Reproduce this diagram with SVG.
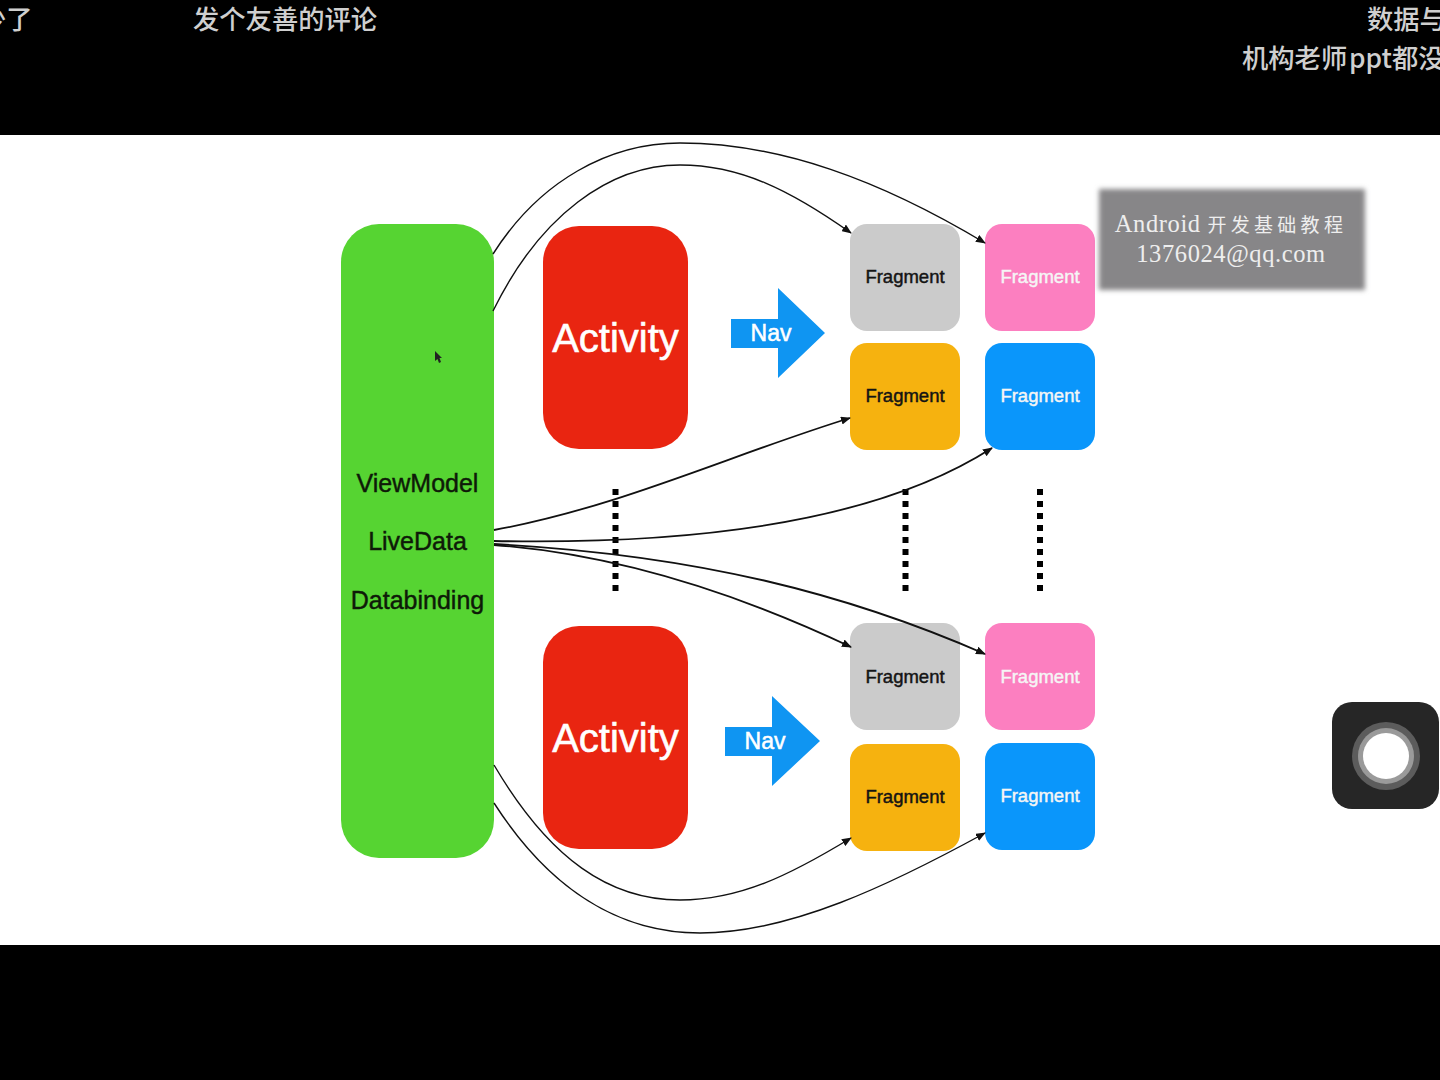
<svg xmlns="http://www.w3.org/2000/svg" width="1440" height="1080" viewBox="0 0 1440 1080">
<style>
.sub{font-family:"Noto Sans CJK SC","Liberation Sans",sans-serif;font-size:26.300px;font-weight:500;fill:#cfcfcf}
.lbl{font-family:"Liberation Sans",Arial,sans-serif;text-anchor:middle}
.frag{font-size:18.5px;stroke-width:.45px}
.dark{fill:#141414;stroke:#141414}
.light{fill:#f5f5f5;stroke:#f5f5f5}
.vm{font-size:25px;fill:#0e1a08;stroke:#0e1a08;stroke-width:.45px}
.act{font-size:40px;fill:#fff;stroke:#fff;stroke-width:.6px}
.nav{font-size:23px;fill:#fff;stroke:#fff;stroke-width:.5px}
.wm{font-family:"Liberation Serif","Noto Sans CJK SC",serif;font-size:24.500px;fill:#eeeeee;text-anchor:middle;letter-spacing:.6px}
.cjk{font-family:"Noto Sans CJK SC",sans-serif;font-size:19px;letter-spacing:4.300px}
.c{fill:none;stroke:#111;stroke-width:1.400}
.m{fill:none;stroke:#111;stroke-width:1.800}
.dots{fill:none;stroke:#000;stroke-width:6;stroke-dasharray:6 6}
</style>
<defs>
<marker id="ah" markerWidth="10" markerHeight="8" refX="9" refY="4" orient="auto" markerUnits="userSpaceOnUse"><path d="M0,0L10,4L0,8Z" fill="#111"/></marker>
<filter id="bl" x="-5%" y="-10%" width="110%" height="120%"><feGaussianBlur stdDeviation="2.500"/></filter>
</defs>
<rect width="1440" height="1080" fill="#000"/>
<rect y="135" width="1440" height="810" fill="#fff"/>
<g id="captions">
<text class="sub" x="-20" y="29">少了</text>
<text class="sub" x="193" y="29">发个友善的评论</text>
<text class="sub" x="1367" y="29">数据与</text>
<text class="sub" x="1242" y="68">机构老师<tspan x="1349">ppt</tspan><tspan x="1392">都没</tspan></text>
</g>
<g id="viewmodel">
<rect x="341" y="224" width="153" height="634" rx="38" fill="#56d432"/>
<text class="lbl vm" x="417.500" y="492">ViewModel</text>
<text class="lbl vm" x="417.500" y="550">LiveData</text>
<text class="lbl vm" x="417.500" y="609">Databinding</text>
</g>
<g id="activity-1"><rect x="543" y="226" width="145" height="223" rx="36" fill="#e92511"/><text class="lbl act" x="615.500" y="352">Activity</text></g>
<g id="activity-2"><rect x="543" y="626" width="145" height="223" rx="36" fill="#e92511"/><text class="lbl act" x="615.500" y="752">Activity</text></g>
<g id="nav-1"><polygon points="731,319 778,319 778,288 825,333 778,378 778,348 731,348" fill="#0f95f2"/><text class="lbl nav" x="771" y="341">Nav</text></g>
<g id="nav-2"><polygon points="725,727 772,727 772,696 820,741 772,786 772,756 725,756" fill="#0f95f2"/><text class="lbl nav" x="765" y="749">Nav</text></g>
<g id="fragment-1"><rect x="850" y="224" width="110" height="107" rx="17" fill="#cbcbcb"/><text class="lbl frag dark" x="905" y="283">Fragment</text></g>
<g id="fragment-2"><rect x="985" y="224" width="110" height="107" rx="17" fill="#fc7fc0"/><text class="lbl frag light" x="1040" y="283">Fragment</text></g>
<g id="fragment-3"><rect x="850" y="343" width="110" height="107" rx="17" fill="#f6b20f"/><text class="lbl frag dark" x="905" y="402">Fragment</text></g>
<g id="fragment-4"><rect x="985" y="343" width="110" height="107" rx="17" fill="#0a96fb"/><text class="lbl frag light" x="1040" y="402">Fragment</text></g>
<g id="fragment-5"><rect x="850" y="623" width="110" height="107" rx="17" fill="#cbcbcb"/><text class="lbl frag dark" x="905" y="683">Fragment</text></g>
<g id="fragment-6"><rect x="985" y="623" width="110" height="107" rx="17" fill="#fc7fc0"/><text class="lbl frag light" x="1040" y="683">Fragment</text></g>
<g id="fragment-7"><rect x="850" y="744" width="110" height="107" rx="17" fill="#f6b20f"/><text class="lbl frag dark" x="905" y="803">Fragment</text></g>
<g id="fragment-8"><rect x="985" y="743" width="110" height="107" rx="17" fill="#0a96fb"/><text class="lbl frag light" x="1040" y="802">Fragment</text></g>
<g id="dots">
<path class="dots" d="M615.500,489V591"/>
<path class="dots" d="M905.500,489V591"/>
<path class="dots" d="M1040,489V591"/>
</g>
<g id="connectors">
<path class="c" marker-end="url(#ah)" d="M493,254C540,180 610,143 680,143C780,143 880,180 985,243"/>
<path class="c" marker-end="url(#ah)" d="M493,311C540,215 610,165 680,165C740,165 790,190 851,233"/>
<path class="m" marker-end="url(#ah)" d="M494,530C620,507 730,455 850,418"/>
<path class="m" marker-end="url(#ah)" d="M494,541C700,545 880,520 992,448"/>
<path class="m" marker-end="url(#ah)" d="M494,545C600,553 720,585 851,647"/>
<path class="m" marker-end="url(#ah)" d="M494,544C700,555 850,595 985,654"/>
<path class="c" marker-end="url(#ah)" d="M494,765C550,860 610,900 680,900C740,900 790,875 851,838"/>
<path class="c" marker-end="url(#ah)" d="M494,803C550,890 620,933 700,933C790,933 890,885 985,833"/>
</g>
<g id="watermark">
<rect x="1099" y="189" width="266" height="101" fill="#878688" filter="url(#bl)"/>
<text class="wm" x="1231" y="232">Android <tspan class="cjk">开发基础教程</tspan></text>
<text class="wm" x="1231" y="262">1376024@qq.com</text>
</g>
<g id="assistive-touch">
<rect x="1332" y="702" width="107" height="107" rx="20" fill="#262626"/>
<circle cx="1386" cy="756" r="34" fill="#5c5c5c"/>
<circle cx="1386" cy="756" r="28" fill="#9a9a9a"/>
<circle cx="1386" cy="756" r="23" fill="#fff"/>
</g>
<g id="cursor"><path d="M435,351L435,361L437.500,359L439,363L441,362L439.500,358L442,358Z" fill="#222"/></g>
</svg>
